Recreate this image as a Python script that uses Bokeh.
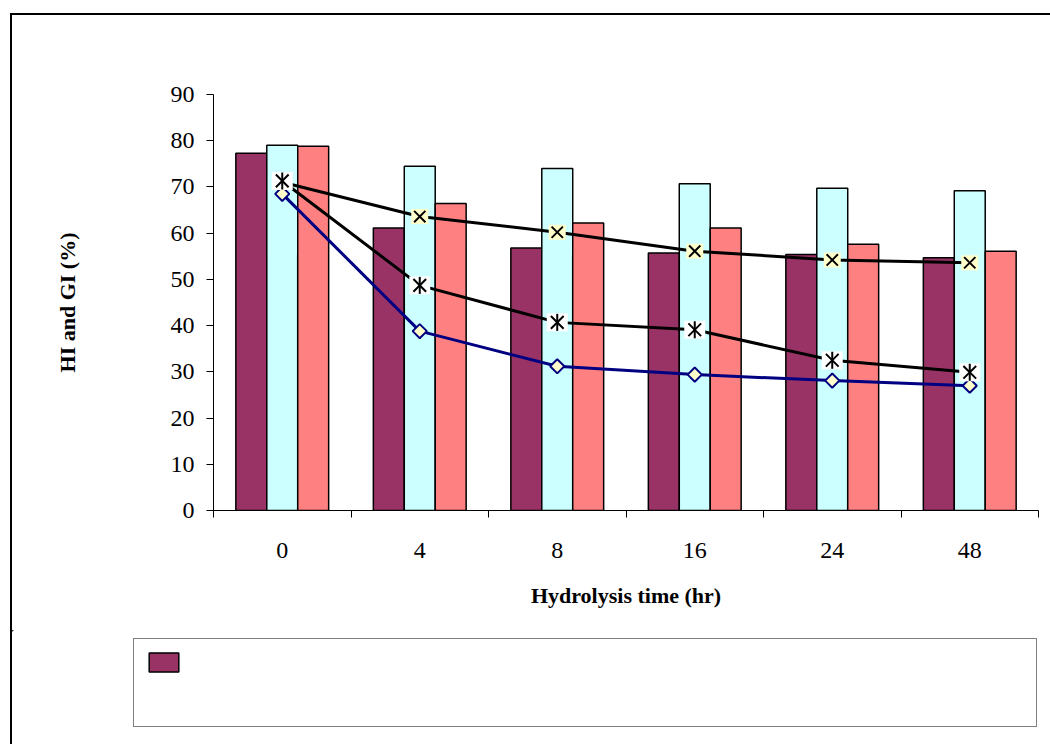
import numpy as np
from bokeh.plotting import figure
from bokeh.layouts import column
from bokeh.models import (Range1d, FixedTicker, Legend, LegendItem, ColumnDataSource)
from bokeh.embed import file_html
from bokeh.resources import INLINE

# ---- data ----
categories = ["0", "4", "8", "16", "24", "48"]
bars_maroon = [77.3, 61.1, 56.8, 55.7, 55.4, 54.7]
bars_cyan = [79.0, 74.5, 74.0, 70.7, 69.7, 69.2]
bars_salmon = [78.8, 66.4, 62.2, 61.1, 57.6, 56.1]
line_cross = [71.0, 63.6, 60.2, 56.1, 54.2, 53.6]
line_star = [71.3, 48.7, 40.7, 39.1, 32.5, 29.9]
line_diamond = [68.5, 38.8, 31.2, 29.4, 28.1, 27.0]
y_ticks = [0, 10, 20, 30, 40, 50, 60, 70, 80, 90]

xc = [i + 0.5 for i in range(len(categories))]
bw = 0.225

src = ColumnDataSource(dict(
    x=xc,
    xa=[v - bw for v in xc],
    xb=xc,
    xcc=[v + bw for v in xc],
    a=bars_maroon, b=bars_cyan, c=bars_salmon,
    lx=line_cross, ls=line_star, ld=line_diamond,
))

p = figure(width=1038, height=615, x_range=Range1d(0, len(categories)),
           y_range=Range1d(0, 90), output_backend="svg", toolbar_location=None,
           min_border_left=201, min_border_right=12, min_border_top=79,
           min_border_bottom=120)
p.frame_align = False
p.xgrid.visible = False
p.ygrid.visible = False
p.outline_line_color = None
p.background_fill_color = "white"
p.border_fill_color = "white"

FONT = "Liberation Serif"

# bars
p.vbar(x="xa", top="a", width=bw, source=src, fill_color="#993366",
       line_color="black", line_width=1.5)
p.vbar(x="xb", top="b", width=bw, source=src, fill_color="#CCFFFF",
       line_color="black", line_width=1.5)
p.vbar(x="xcc", top="c", width=bw, source=src, fill_color="#FF8080",
       line_color="black", line_width=1.5)

# lines
p.line("x", "ld", source=src, line_color="#000080", line_width=3)
p.line("x", "lx", source=src, line_color="black", line_width=3)
p.line("x", "ls", source=src, line_color="black", line_width=3)

# diamond markers
p.scatter("x", "ld", source=src, marker="square", angle=np.pi / 4, size=10,
          fill_color="#FFFFCC", line_color="#000080", line_width=2)
# cross markers with pale yellow background
p.rect("x", "lx", width=17, height=15, width_units="screen", height_units="screen",
       source=src, fill_color="#FFFFCC", line_color=None)
p.scatter("x", "lx", source=src, marker="x", size=16, line_color="black",
          line_width=2)
# star markers with white background
p.rect("x", "ls", width=21, height=18, width_units="screen", height_units="screen",
       source=src, fill_color="white", line_color=None)
p.scatter("x", "ls", source=src, marker="x", size=18, line_color="black",
          line_width=2)
p.scatter("x", "ls", source=src, marker="dash", angle=np.pi / 2, size=17,
          line_color="black", line_width=2)

# y axis
yax = p.yaxis[0]
yax.ticker = FixedTicker(ticks=y_ticks)
yax.major_tick_in = 0
yax.major_tick_out = 7
yax.minor_tick_line_color = None
yax.axis_line_color = "black"
yax.major_tick_line_color = "black"
yax.major_label_text_font = FONT
yax.major_label_text_font_size = "24px"
yax.major_label_text_color = "black"
yax.major_label_standoff = 12
yax.axis_label = "HI and GI (%)"
yax.axis_label_text_font = FONT
yax.axis_label_text_font_style = "bold"
yax.axis_label_text_font_size = "22px"
yax.axis_label_text_color = "black"
yax.axis_label_standoff = 88

# x axis
xax = p.xaxis[0]
xax.ticker = FixedTicker(ticks=xc, minor_ticks=list(range(len(categories) + 1)))
xax.major_label_overrides = {v: c for v, c in zip(xc, categories)}
xax.major_tick_in = 0
xax.major_tick_out = 0
xax.minor_tick_in = 0
xax.minor_tick_out = 7
xax.minor_tick_line_color = "black"
xax.axis_line_color = "black"
xax.major_label_text_font = FONT
xax.major_label_text_font_size = "24px"
xax.major_label_text_color = "black"
xax.major_label_standoff = 25
xax.axis_label = "Hydrolysis time (hr)"
xax.axis_label_text_font = FONT
xax.axis_label_text_font_style = "bold"
xax.axis_label_text_font_size = "22px"
xax.axis_label_text_color = "black"
xax.axis_label_standoff = 22

# legend area: a second figure whose frame covers the strip below the chart
q = figure(width=1038, height=114, x_range=Range1d(20, 21), y_range=Range1d(-2, -1),
           output_backend="svg", toolbar_location=None,
           x_axis_location=None, y_axis_location=None,
           min_border_left=0, min_border_right=0, min_border_top=0,
           min_border_bottom=0)
q.frame_align = False
q.xgrid.visible = False
q.ygrid.visible = False
q.outline_line_color = None
q.background_fill_color = "white"
q.border_fill_color = "white"
# proxy renderers for the legend (same series, outside q's visible range)
r_leg = q.vbar(x="xa", top="a", width=bw, source=src, fill_color="#993366",
               line_color="black", line_width=1.5)
r_blank = q.vbar(x="xa", top="a", width=bw, source=src, fill_alpha=0,
                 line_alpha=0)
legend = Legend(items=[LegendItem(label=" ", renderers=[r_leg]),
                       LegendItem(label=" ", renderers=[r_blank])],
                location=(121, 17),
                glyph_width=37, glyph_height=24, padding=11, spacing=17,
                label_standoff=5, label_width=838, label_height=24,
                label_text_font_size="12px",
                border_line_color="black", border_line_width=1.5,
                background_fill_color="white", background_fill_alpha=1,
                margin=0, label_text_font=FONT)
q.add_layout(legend, "center")

layout = column(p, q, spacing=0)
layout.styles = {"margin-left": "10px", "margin-top": "13px",
                 "border-left": "2px solid black", "border-top": "2px solid black"}

open("out.html", "w").write(file_html(layout, INLINE))
